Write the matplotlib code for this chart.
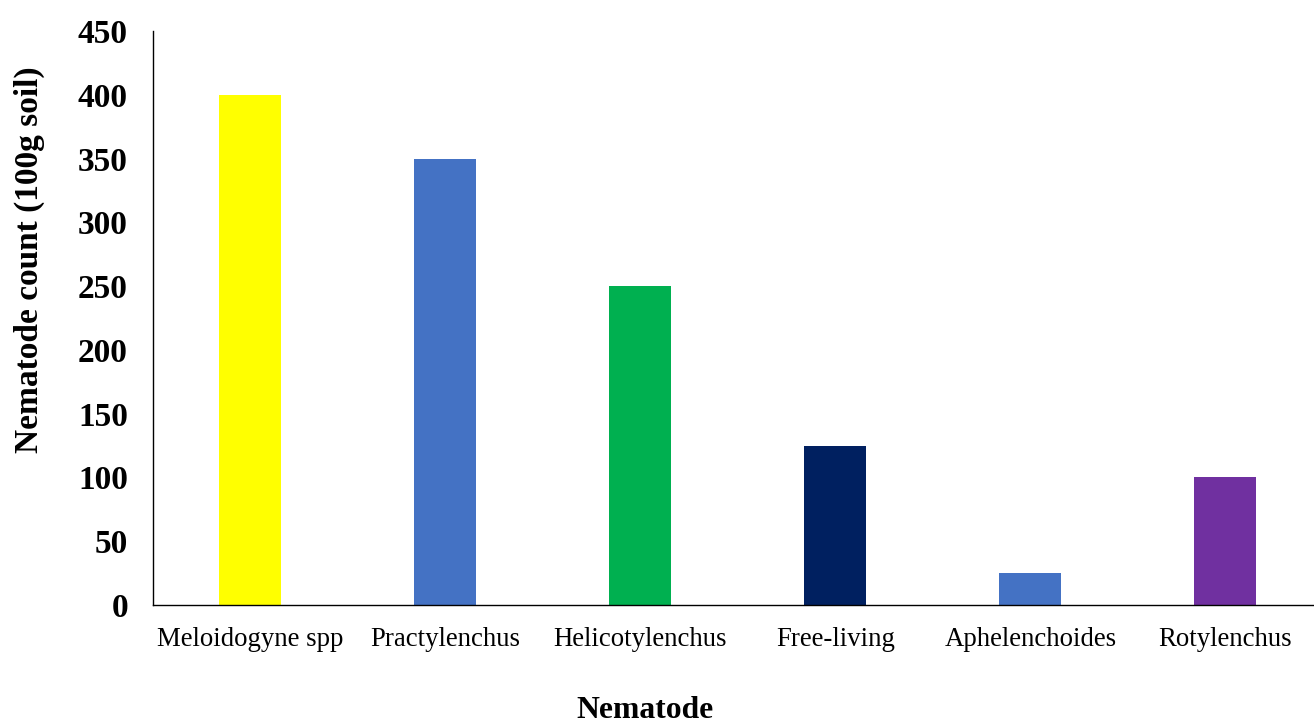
import matplotlib.pyplot as plt

plt.rcParams['font.family'] = ['Liberation Serif', 'DejaVu Serif']

nematodes = ['Meloidogyne spp', 'Practylenchus', 'Helicotylenchus',
             'Free-living', 'Aphelenchoides', 'Rotylenchus']
counts = [400, 350, 250, 125, 25, 100]
colors = ['#FFFF00', '#4472C4', '#00B050', '#002060', '#4472C4', '#7030A0']

fig = plt.figure(figsize=(13.14, 7.2), dpi=100)
# the plot area runs slightly past the right edge, as in the original
ax = fig.add_axes([0.1164, 0.1597, 0.8904, 0.7973])

ax.bar(range(len(nematodes)), counts, width=0.318, color=colors)

ax.set_xlim(-0.5, len(nematodes) - 0.5)
ax.set_ylim(0, 450)
ax.set_yticks(range(0, 451, 50))
ax.set_xticks(range(len(nematodes)))
ax.set_xticklabels(nematodes, fontsize=19.3)
for lbl in ax.get_yticklabels():
    lbl.set_fontsize(24)
    lbl.set_fontweight('bold')
ax.tick_params(axis='y', length=0, pad=18)
ax.tick_params(axis='x', length=0, pad=16)

ax.spines['top'].set_visible(False)
ax.spines['right'].set_visible(False)
ax.spines['left'].set_linewidth(1.0)
ax.spines['bottom'].set_linewidth(1.0)

fig.text(0.022, 0.639, 'Nematode count (100g soil)', rotation=90, fontsize=24,
         fontweight='bold', ha='center', va='center')
fig.text(0.491, 0.013, 'Nematode', fontsize=22.8, fontweight='bold',
         ha='center', va='center')

fig.savefig('out.png', dpi=100)
